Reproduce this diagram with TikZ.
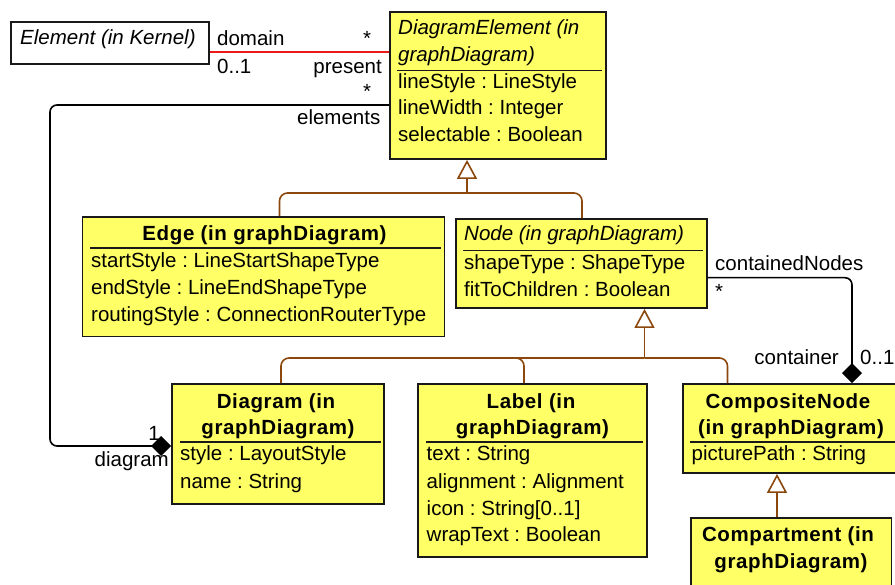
\documentclass[tikz,border=0pt]{standalone}
\usepackage{fontspec}
\setmainfont{Liberation Sans}
\newfontfamily\titlefont{Liberation Sans}[LetterSpace=3]
\usetikzlibrary{arrows.meta}
\frenchspacing
\definecolor{classfill}{RGB}{255,255,102}
\definecolor{genbrown}{RGB}{140,72,12}
\definecolor{assocred}{RGB}{235,25,25}
\tikzset{
  classbox/.style={draw=black!90, line width=1.8pt, fill=classfill, rectangle, inner sep=0pt},
  plainbox/.style={draw=black!90, line width=1.8pt, fill=white, rectangle, inner sep=0pt},
  sepline/.style={draw=black!90, line width=1.6pt},
  txt/.style={inner sep=0pt, anchor=base west, font=\fontsize{20.5}{27}\selectfont\frenchspacing},
  rtxt/.style={txt, anchor=base east},
  ttl/.style={inner sep=0pt, anchor=base, font=\fontsize{20.5}{27}\selectfont\titlefont\bfseries\frenchspacing},
  itl/.style={txt, font=\fontsize{20.5}{27}\selectfont\itshape\frenchspacing},
  assoc/.style={draw=black, line width=1.6pt, rounded corners=7pt},
  redassoc/.style={draw=assocred, line width=1.6pt},
  composite/.style={assoc, -{Diamond[length=20pt,width=20pt,fill=black]}},
  genline/.style={draw=genbrown, line width=1.6pt, rounded corners=8pt},
  gentip/.style={draw=genbrown, line width=1.6pt,
    -{Triangle[length=19pt,width=20pt,open,fill=white]}},
}
\begin{document}
\begin{tikzpicture}[x=1pt,y=-1pt]
\useasboundingbox (0,0) rectangle (895,585);
\clip (0,0) rectangle (895,585);

% ---------- class boxes ----------
\node[plainbox, minimum width=198pt, minimum height=42pt] (elem) at (110,43) {};
\node[classbox, minimum width=216pt, minimum height=147pt] (de) at (498,85.5) {};
\node[classbox, minimum width=362pt, minimum height=119.5pt] (edge) at (263.5,276.75) {};
\node[classbox, minimum width=251pt, minimum height=89pt] (node) at (581.5,263.5) {};
\node[classbox, minimum width=212pt, minimum height=120pt] (diag) at (278,444) {};
\node[classbox, minimum width=229pt, minimum height=173pt] (label) at (532.5,470.5) {};
\node[classbox, minimum width=215pt, minimum height=89pt] (comp) at (790.5,428.5) {};
\node[classbox, minimum width=200.5pt, minimum height=90pt] (cmpt) at (791.25,563) {};

% ---------- compartment separators ----------
\draw[sepline] (397,70.7) -- (602,70.7);
\draw[sepline] (90,248.3) -- (441,248.3);
\draw[sepline] (463,250.7) -- (703,250.7);
\draw[sepline] (180,442) -- (381,442);
\draw[sepline] (426,442.3) -- (643,442.3);
\draw[sepline] (690,442) -- (895,442);

% ---------- class texts ----------
\node[itl] (elem-n) at (20,44.3) {Element (in Kernel)};

\node[itl] (de-n1) at (398,35) {DiagramElement (in};
\node[itl] (de-n2) at (398,61.7) {graphDiagram)};
\node[txt] (de-a1) at (398,88.3) {lineStyle : LineStyle};
\node[txt] (de-a2) at (398,115) {lineWidth : Integer};
\node[txt] (de-a3) at (398,142) {selectable : Boolean};

\node[ttl] (edge-n) at (264.5,241) {Edge (in graphDiagram)};
\node[txt] (edge-a1) at (91,267.3) {startStyle : LineStartShapeType};
\node[txt] (edge-a2) at (91,294.3) {endStyle : LineEndShapeType};
\node[txt] (edge-a3) at (91,321.7) {routingStyle : ConnectionRouterType};

\node[itl] (node-n) at (464,240.7) {Node (in graphDiagram)};
\node[txt] (node-a1) at (464,270) {shapeType : ShapeType};
\node[txt] (node-a2) at (464,296.7) {fitToChildren : Boolean};

\node[ttl] (diag-n1) at (276,408.3) {Diagram (in};
\node[ttl] (diag-n2) at (278,435) {graphDiagram)};
\node[txt] (diag-a1) at (180,460.7) {style : LayoutStyle};
\node[txt] (diag-a2) at (180,488.3) {name : String};

\node[ttl] (label-n1) at (531,408.3) {Label (in};
\node[ttl] (label-n2) at (532.5,435) {graphDiagram)};
\node[txt] (label-a1) at (426.5,460.7) {text : String};
\node[txt] (label-a2) at (426.5,488.3) {alignment : Alignment};
\node[txt] (label-a3) at (426.5,515) {icon : String[0..1]};
\node[txt] (label-a4) at (426.5,541.7) {wrapText : Boolean};

\node[ttl] (comp-n1) at (788,408.3) {CompositeNode};
\node[ttl] (comp-n2) at (791,435) {(in graphDiagram)};
\node[txt] (comp-a1) at (691.5,460.7) {picturePath : String};

\node[ttl] (cmpt-n1) at (788,541.7) {Compartment (in};
\node[ttl] (cmpt-n2) at (791,568.3) {graphDiagram)};

% ---------- associations ----------
\draw[redassoc] (elem.east |- 0,52) -- (de.west |- 0,52);
\node[txt] (dom-role) at (217,46) {domain};
\node[txt] (dom-mult) at (217,73.3) {0..1};
\node[txt] (pre-mult) at (363,46) {*};
\node[rtxt] (pre-role) at (382,73.3) {present};

\draw[composite] (de.west |- 0,105) -- (50,105) -- (50,446) -- (diag.west |- 0,446);
\node[txt] (el-mult) at (363,98.5) {*};
\node[rtxt] (el-role) at (380.5,125) {elements};
\node[rtxt] (dg-mult) at (160,440) {1};
\node[rtxt] (dg-role) at (169,466.7) {diagram};

\draw[composite] (node.east |- 0,277.7) -- (852,277.7) -- (852,0 |- comp.north);
\node[txt] (cn-role) at (715,271) {containedNodes};
\node[txt] (cn-mult) at (715,299) {*};
\node[rtxt] (ct-role) at (839,365) {container};
\node[txt] (ct-mult) at (860,365) {0..1};

% ---------- generalizations ----------
\coordinate (gtop) at (467,193);
\draw[gentip] (gtop) -- (467,0 |- de.south);
\draw[genline] (gtop) -- (279.5,193) -- (279.5,0 |- edge.north);
\draw[genline] (gtop) -- (582,193) -- (582,0 |- node.north);

\coordinate (gmid) at (644.5,358);
\coordinate (lbranch) at (495,358);
\draw[gentip] (gmid) -- (644.5,0 |- node.south);
\draw[genline] (gmid) -- (281,358) -- (281,0 |- diag.north);
\draw[genline] (lbranch) -- (524,358) -- (524,0 |- label.north);
\draw[genline] (gmid) -- (727.5,358) -- (727.5,0 |- comp.north);

\draw[gentip] (777,0 |- cmpt.north) -- (777,0 |- comp.south);
\end{tikzpicture}
\end{document}
